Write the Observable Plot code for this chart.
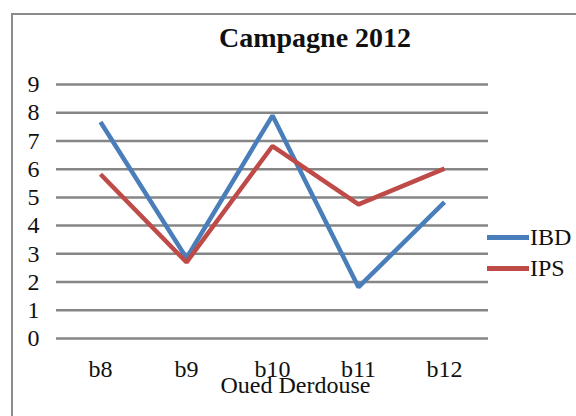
<!DOCTYPE html>
<html><head><meta charset="utf-8">
<script src="https://cdn.jsdelivr.net/npm/d3@7"></script>
<script src="https://cdn.jsdelivr.net/npm/@observablehq/plot@0.6"></script>
<style>body{margin:0;padding:0;background:#fff;}</style></head>
<body>
<div id="wrap" style="position:relative;width:576px;height:416px;overflow:hidden;font-family:'Liberation Serif';color:#111;">
<div style="position:absolute;left:11px;top:13px;width:700px;height:600px;border:2px solid #8c8c8c;box-sizing:border-box;"></div>
<div id="title" style="position:absolute;left:115px;top:24px;width:400px;text-align:center;font-family:'Liberation Serif';font-weight:bold;font-size:28px;line-height:28px;z-index:2;">Campagne 2012</div>
<div id="legend" style="position:absolute;left:487px;top:222px;font-size:24px;font-family:'Liberation Serif';z-index:2;">
  <div style="display:flex;align-items:center;height:31px;"><div id="sw0" style="width:42px;height:4.5px;margin-right:1px;background:#4a7ebb;"></div><span style="font-family:'Liberation Serif';">IBD</span></div>
  <div style="display:flex;align-items:center;height:31px;"><div id="sw1" style="width:42px;height:4.5px;margin-right:1px;background:#be4b48;"></div><span style="font-family:'Liberation Serif';">IPS</span></div>
</div>
<div id="chart"></div>
</div>
<script>
const categories = ["b8","b9","b10","b11","b12"];
const ibd = [7.67, 2.85, 7.9, 1.82, 4.83];
const ips = [5.82, 2.7, 6.82, 4.75, 6.02];
const seriesNames = ["IBD","IPS"];
const colors = ["#4a7ebb","#be4b48"];
const yTicks = [0,1,2,3,4,5,6,7,8,9];
const xLabel = "Oued Derdouse";
const FF = "Liberation Serif";

const data = [];
categories.forEach((c,i)=>{ data.push({cat:c,val:ibd[i],s:"IBD"}); data.push({cat:c,val:ips[i],s:"IPS"}); });

const chart = Plot.plot({
  width:576, height:416,
  marginLeft:56, marginRight:88, marginTop:84, marginBottom:78,
  style:"font-family:'Liberation Serif';font-size:24px;background:transparent;color:#111;",
  x:{type:"point", domain:categories, padding:0.5, label:null},
  y:{domain:[0,9], label:null},
  color:{domain:seriesNames, range:colors},
  marks:[
    Plot.ruleY(yTicks, {stroke:"#868686", strokeWidth:2.5}),
    Plot.line(data, {x:"cat", y:"val", z:"s", stroke:"s", strokeWidth:4.5, strokeLinejoin:"miter", strokeLinecap:"butt"}),
    Plot.axisY(yTicks, {tickSize:0, tickPadding:17, fontSize:24, fontFamily:FF, label:null}),
    Plot.axisX({tickSize:0, tickPadding:21, fontSize:24, fontFamily:FF, label:null}),
    Plot.text([xLabel], {frameAnchor:"bottom-left", dx:239, dy:54, fontSize:24, fontFamily:FF, textAnchor:"middle"})
  ]
});
document.getElementById("chart").appendChild(chart);
chart.style.position="absolute"; chart.style.left="0"; chart.style.top="0";
</script></body></html>
